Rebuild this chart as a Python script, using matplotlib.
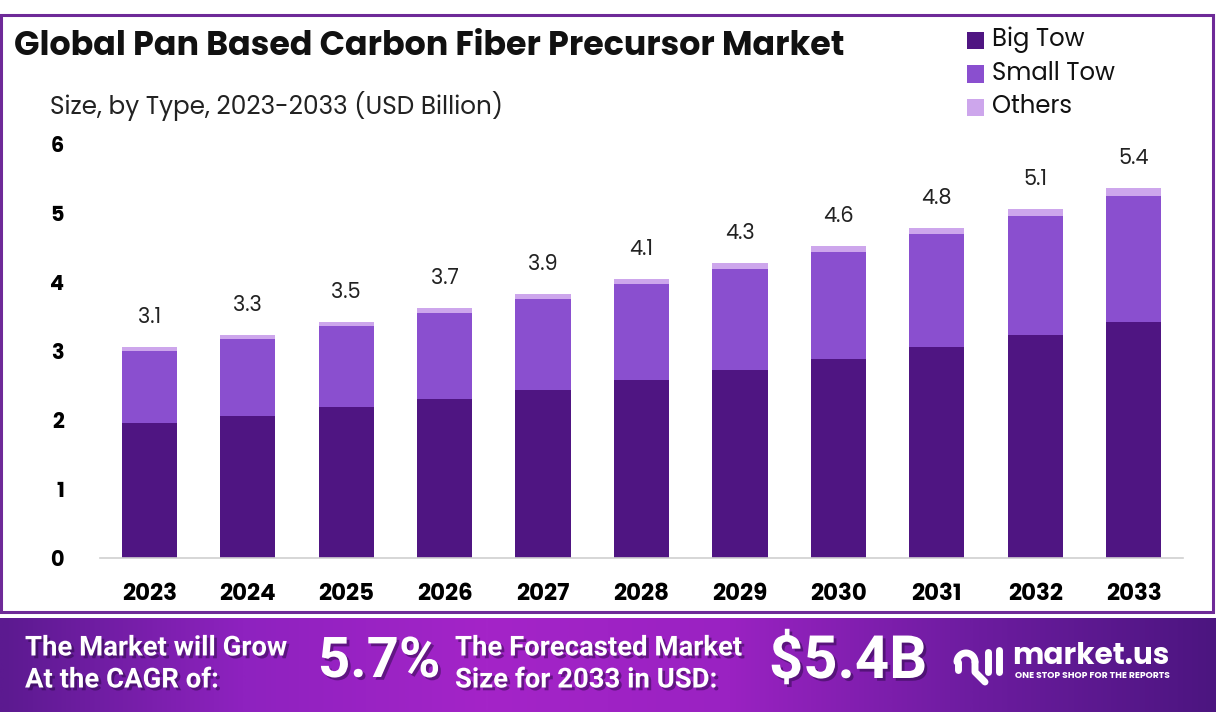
import numpy as np
import matplotlib.pyplot as plt
from matplotlib.patches import Rectangle
from matplotlib.colors import LinearSegmentedColormap
import matplotlib.patheffects as pe

years = ["2023", "2024", "2025", "2026", "2027", "2028", "2029", "2030", "2031", "2032", "2033"]
big_tow = [1.96, 2.06, 2.19, 2.30, 2.43, 2.58, 2.72, 2.88, 3.06, 3.23, 3.42]
small_tow = [1.04, 1.11, 1.17, 1.25, 1.32, 1.39, 1.47, 1.55, 1.64, 1.73, 1.83]
others = [0.06, 0.06, 0.06, 0.07, 0.08, 0.07, 0.09, 0.09, 0.08, 0.10, 0.11]
totals = ["3.1", "3.3", "3.5", "3.7", "3.9", "4.1", "4.3", "4.6", "4.8", "5.1", "5.4"]

series = ["Big Tow", "Small Tow", "Others"]
colors = ["#4f1582", "#8a4fcf", "#cda6ec"]

W, H = 1216, 728
FONT = ["Poppins", "Open Sans", "DejaVu Sans"]
NARROW = ["Liberation Sans Narrow", "Roboto", "DejaVu Sans"]

fig = plt.figure(figsize=(W / 100, H / 100), dpi=100)
fig.patch.set_facecolor("white")


def fx(px):
    return px / W


def fy(py):
    return 1 - py / H


# outer frame
fig.patches.append(Rectangle((fx(1), fy(612)), fx(1212), (612 - 15) / H, transform=fig.transFigure,
                             fill=False, edgecolor="#6e2a98", linewidth=2.2))

# plot area
ax = fig.add_axes([fx(100), fy(558), fx(1083), (558 - 144) / H])
x = np.arange(len(years))
bottom = np.zeros(len(years))
for vals, c, name in zip([big_tow, small_tow, others], colors, series):
    ax.bar(x, vals, width=0.56, bottom=bottom, color=c, label=name, zorder=2)
    bottom += np.array(vals)

for xi, top, lab in zip(x, bottom, totals):
    ax.text(xi, top + 0.26, lab, ha="center", va="bottom", fontsize=15, family=FONT, color="#222222")

ax.set_xlim(-0.5, len(years) - 0.5)
ax.set_ylim(0, 6)
ax.set_xticks(x)
ax.set_xticklabels(years, fontsize=16.5, fontweight="bold", family=FONT)
ax.set_yticks(range(7))
ax.set_yticklabels([str(i) for i in range(7)], fontsize=15, fontweight="bold", family=FONT)
ax.tick_params(length=0)
ax.tick_params(axis="y", pad=26)
ax.tick_params(axis="x", pad=18)
for s in ["top", "right", "left"]:
    ax.spines[s].set_visible(False)
ax.spines["bottom"].set_color("#d0d0d0")
ax.spines["bottom"].set_linewidth(1.2)

# titles
fig.text(fx(14), fy(47), "Global Pan Based Carbon Fiber Precursor Market", fontsize=24, fontweight="bold",
         family=FONT, va="center", ha="left", color="#111111")
fig.text(fx(50), fy(106), "Size, by Type, 2023-2033 (USD Billion)", fontsize=17.8, family=FONT,
         va="center", ha="left", color="#222222")

# legend
for i, (name, c) in enumerate(zip(series, colors)):
    yy = 40 + i * 33.5
    fig.patches.append(Rectangle((fx(967), fy(yy + 9)), fx(17), 17 / H, transform=fig.transFigure,
                                 facecolor=c, edgecolor="none"))
    fig.text(fx(992), fy(yy), name, fontsize=17.5, family=FONT, va="center", ha="left", color="#111111")

# footer banner with gradient
cmap = LinearSegmentedColormap.from_list("band", ["#5c1a90", "#8e22bf", "#a424c8", "#9a22c2", "#6d1ca0", "#4c1580"])
bax = fig.add_axes([0, fy(712), 1, (712 - 618) / H])
grad = np.linspace(0, 1, 512).reshape(1, -1)
bax.imshow(grad, aspect="auto", cmap=cmap, extent=[0, W, 712, 618])
bax.set_xlim(0, W)
bax.set_ylim(712, 618)
bax.axis("off")

shadow = [pe.withSimplePatchShadow(offset=(2, -2), shadow_rgbFace="#2a0a45", alpha=0.5)]
bax.text(25, 648, "The Market will Grow", fontsize=19.8, fontweight="bold", family=NARROW, color="white",
         va="center", ha="left", path_effects=shadow)
bax.text(25, 680, "At the CAGR of:", fontsize=19.8, fontweight="bold", family=NARROW, color="white",
         va="center", ha="left", path_effects=shadow)
bax.text(318, 662, "5.7%", fontsize=40.5, fontweight="bold", family=NARROW, color="white",
         va="center", ha="left", path_effects=shadow)
bax.text(455, 648, "The Forecasted Market", fontsize=19.8, fontweight="bold", family=NARROW, color="white",
         va="center", ha="left", path_effects=shadow)
bax.text(455, 680, "Size for 2033 in USD:", fontsize=19.8, fontweight="bold", family=NARROW, color="white",
         va="center", ha="left", path_effects=shadow)
bax.text(769, 662, "$5.4B", fontsize=43, fontweight="bold", family=NARROW, color="white",
         va="center", ha="left", path_effects=shadow)

# market.us logo
lw = 5
bax.plot([958, 958], [662, 670], color="white", lw=lw, solid_capstyle="round")
arc_t = np.linspace(np.pi, 0, 30)
bax.plot(966 + 9 * np.cos(arc_t), 662 - 9 * np.sin(arc_t), color="white", lw=lw, solid_capstyle="round")
bax.plot([975, 975, 985], [662, 672, 682], color="white", lw=lw, solid_capstyle="round")
bax.plot([988, 988], [652, 672], color="white", lw=lw, solid_capstyle="round")
bax.plot([999, 999], [650, 672], color="white", lw=lw, solid_capstyle="round")
bax.text(1012, 657, "market.us", fontsize=21.3, fontweight="bold", family=FONT, color="white",
         va="center", ha="left")
bax.text(1015, 675, "ONE STOP SHOP FOR THE REPORTS", fontsize=6.6, fontweight="bold", family=FONT,
         color="white", va="center", ha="left")

fig.savefig("out.png", dpi=100, facecolor="white")
